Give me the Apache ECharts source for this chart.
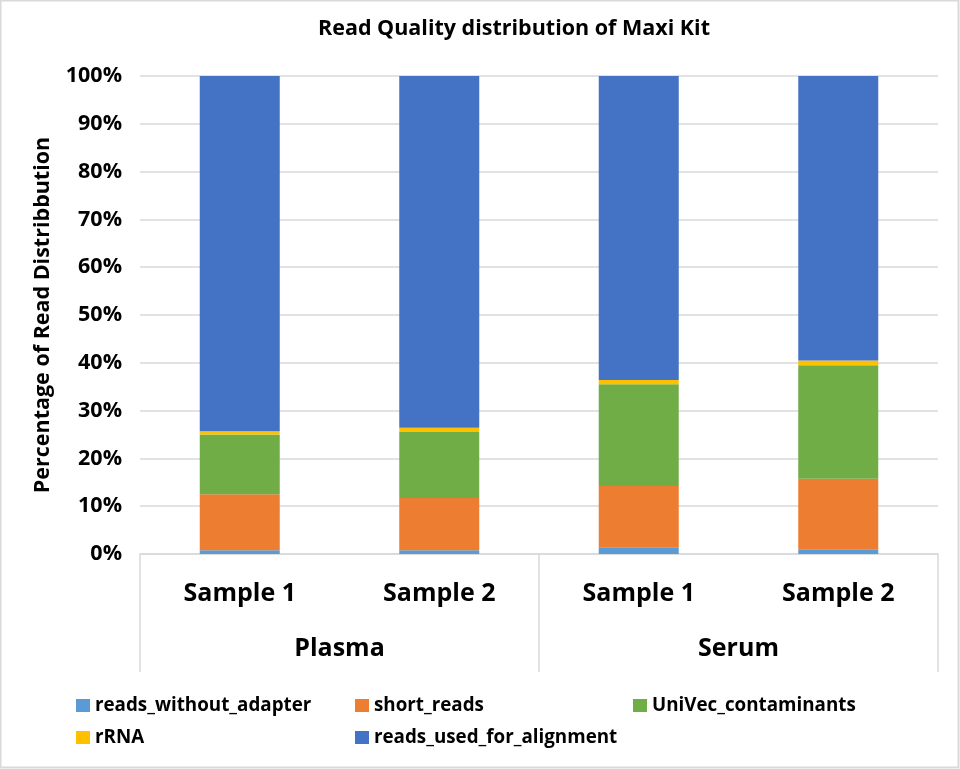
<!DOCTYPE html>
<html><head><meta charset="utf-8">
<script src="https://cdn.jsdelivr.net/npm/echarts@6/dist/echarts.min.js"></script>
<style>html,body{margin:0;padding:0;background:#fff}#c{width:960px;height:769px}</style>
</head><body><div id="c"></div>
<script>
var samples = ['Sample 1', 'Sample 2', 'Sample 1', 'Sample 2'];
var groups = ['Plasma', 'Serum'];
var seriesNames = ['reads_without_adapter', 'short_reads', 'UniVec_contaminants', 'rRNA', 'reads_used_for_alignment'];
var readsWithoutAdapter = [0.8, 0.8, 1.4, 1.0];
var shortReads = [11.7, 10.9, 12.8, 14.75];
var univecContaminants = [12.5, 13.8, 21.3, 23.75];
var rRNA = [0.7, 0.9, 0.9, 1.0];
var readsUsedForAlignment = [74.3, 73.6, 63.6, 59.5];
var yTicks = [0, 10, 20, 30, 40, 50, 60, 70, 80, 90, 100];

var colors = ['#5B9BD5', '#ED7D31', '#70AD47', '#FFC000', '#4472C4'];
var values = [readsWithoutAdapter, shortReads, univecContaminants, rRNA, readsUsedForAlignment];
var FONT = 'Open Sans';

var chart = echarts.init(document.getElementById('c'));
var series = seriesNames.map(function (n, i) {
  return {
    name: n, type: 'bar', stack: 'total', barWidth: 80,
    xAxisIndex: 0, yAxisIndex: 0,
    itemStyle: { color: colors[i] },
    data: values[i]
  };
});
var legendText = { fontFamily: FONT, fontWeight: 'bold', fontSize: 18.8, color: '#000' };
var legendBase = { orient: 'vertical', top: 691, itemWidth: 14, itemHeight: 13, itemGap: 13, textStyle: legendText, icon: 'rect' };
chart.setOption({
  animation: false,
  backgroundColor: '#fff',
  title: {
    text: 'Read Quality distribution of Maxi Kit',
    left: 509, top: 13, textAlign: 'center',
    textStyle: { fontFamily: FONT, fontWeight: 'bold', fontSize: 21.5, color: '#000' }
  },
  grid: { left: 140, right: 22, top: 76, bottom: 215, containLabel: false },
  legend: [
    Object.assign({ data: [seriesNames[0], seriesNames[3]], left: 71 }, legendBase),
    Object.assign({ data: [seriesNames[1], seriesNames[4]], left: 350 }, legendBase),
    Object.assign({ data: [seriesNames[2]], left: 628 }, legendBase)
  ],
  xAxis: [
    {
      type: 'category', data: samples, position: 'bottom',
      axisLine: { show: true, lineStyle: { color: '#d9d9d9', width: 1.5 } },
      axisTick: { show: false },
      axisLabel: { margin: 27, fontFamily: FONT, fontWeight: 'bold', fontSize: 25, color: '#000' }
    },
    {
      type: 'category', data: groups, position: 'bottom', gridIndex: 0,
      axisLine: { show: false },
      axisTick: { show: true, length: 118, lineStyle: { color: '#d9d9d9', width: 1.5 } },
      axisLabel: { margin: 82, fontFamily: FONT, fontWeight: 'bold', fontSize: 25, color: '#000' }
    }
  ],
  yAxis: {
    type: 'value', min: yTicks[0], max: yTicks[yTicks.length - 1], interval: 10,
    name: 'Percentage of Read Distribbution', nameLocation: 'middle', nameGap: 86,
    nameTextStyle: { fontFamily: FONT, fontWeight: 'bold', fontSize: 21.5, color: '#000' },
    axisLine: { show: false }, axisTick: { show: false },
    axisLabel: { formatter: '{value}%', margin: 18, fontFamily: FONT, fontWeight: 'bold', fontSize: 21.5, color: '#000' },
    splitLine: { lineStyle: { color: '#d9d9d9', width: 1.5 } }
  },
  graphic: [
    { type: 'rect', shape: { x: 0.5, y: 0.5, width: 958, height: 767 }, style: { fill: 'none', stroke: '#d9d9d9', lineWidth: 2 }, silent: true }
  ],
  series: series
});
</script></body></html>
